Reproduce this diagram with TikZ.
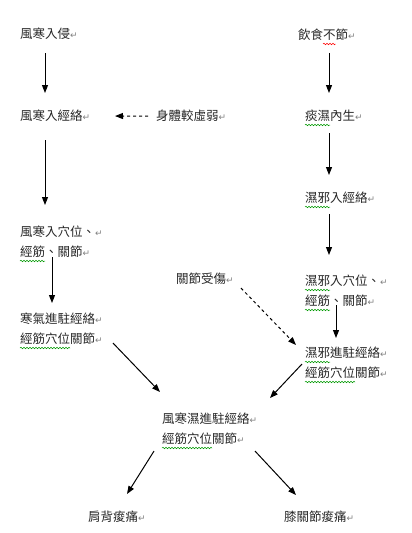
\documentclass[tikz,border=0pt]{standalone}
\usepackage{fontspec}
\usetikzlibrary{arrows.meta,decorations.pathmorphing}
\newfontfamily\tcfont{Noto Sans CJK TC}
\newfontfamily\dvfont{DejaVu Sans}
\newcommand{\rmark}{{\dvfont\fontsize{9}{9}\selectfont\color{gray}↵}}
\tikzset{
  lbl/.style={anchor=north west, inner sep=0pt, align=left, text=black!85,
    font=\tcfont\fontsize{12.5}{20}\selectfont},
  arr/.style={line width=1pt, -{Triangle[length=8pt,width=6pt]}},
  darr/.style={arr, dash pattern=on 3pt off 3pt},
  wavy/.style={draw=green!60!black, line width=0.5pt,
    decorate, decoration={snake, segment length=3pt, amplitude=0.8pt}},
  wavyred/.style={wavy, draw=red}
}
\begin{document}
\begin{tikzpicture}[x=1pt,y=-1pt]
\useasboundingbox (0,0) rectangle (412,533);
\node[lbl] (n1) at (20,28) {風寒入侵\rmark};
\node[lbl] (n2) at (298,29) {飲食不節\rmark};
\node[lbl] (n3) at (20,110) {風寒入經絡\rmark};
\node[lbl] (n4) at (156,110) {身體較虛弱\rmark};
\node[lbl] (n5) at (305,110) {痰濕內生\rmark};
\node[lbl] (n6) at (305,192) {濕邪入經絡\rmark};
\node[lbl] (n7) at (20,226) {風寒入穴位、\rmark\\經筋、關節\rmark};
\node[lbl] (n8) at (176,273) {關節受傷\rmark};
\node[lbl] (n9) at (305,275) {濕邪入穴位、\rmark\\經筋、關節\rmark};
\node[lbl] (n10) at (20,313) {寒氣進駐經絡\rmark\\經筋穴位關節\rmark};
\node[lbl] (n11) at (305,347) {濕邪進駐經絡\rmark\\經筋穴位關節\rmark};
\node[lbl] (n12) at (162,413) {風寒濕進駐經絡\rmark\\經筋穴位關節\rmark};
\node[lbl] (n13) at (88,511) {肩背痠痛\rmark};
\node[lbl] (n14) at (284,511) {膝關節痠痛\rmark};

% spell-check underlines
\draw[wavyred] ([shift={(25,15)}]n2.north west) -- ([shift={(37.5,15)}]n2.north west);
\draw[wavy] ([shift={(0,15)}]n5.north west) -- ([shift={(25,15)}]n5.north west);
\draw[wavy] ([shift={(0,15)}]n6.north west) -- ([shift={(25,15)}]n6.north west);
\draw[wavy] ([shift={(0,35)}]n7.north west) -- ([shift={(25,35)}]n7.north west);
\draw[wavy] ([shift={(0,15)}]n9.north west) -- ([shift={(25,15)}]n9.north west);
\draw[wavy] ([shift={(0,35)}]n9.north west) -- ([shift={(25,35)}]n9.north west);
\draw[wavy] ([shift={(0,35)}]n10.north west) -- ([shift={(50,35)}]n10.north west);
\draw[wavy] ([shift={(0,15)}]n11.north west) -- ([shift={(25,15)}]n11.north west);
\draw[wavy] ([shift={(0,35)}]n11.north west) -- ([shift={(50,35)}]n11.north west);
\draw[wavy] ([shift={(0,35)}]n12.north west) -- ([shift={(50,35)}]n12.north west);

\draw[arr] ([shift={(25,13)}]n1.south west) -- ([shift={(25,-17)}]n3.north west);
\draw[arr] ([shift={(31,12)}]n2.south west) -- ([shift={(24,-17)}]n5.north west);
\draw[darr] ([xshift=-8pt]n4.west) -- ([xshift=95pt]n3.west);
\draw[arr] ([shift={(25,18)}]n3.south west) -- ([shift={(25,-21)}]n7.north west);
\draw[arr] ([shift={(24,11)}]n5.south west) -- ([shift={(24,-17)}]n6.north west);
\draw[arr] ([shift={(24,10)}]n6.south west) -- ([shift={(24,-20)}]n9.north west);
\draw[arr] ([shift={(32,-1)}]n7.south west) -- ([shift={(32,-10)}]n10.north west);
\draw[arr] ([shift={(31,-2)}]n9.south west) -- ([shift={(31,-9)}]n11.north west);
\draw[darr] ([shift={(65,3)}]n8.south west) -- ([shift={(-9,-2)}]n11.north west);
\draw[arr] ([shift={(93,-2)}]n10.south west) -- ([shift={(-2,-21)}]n12.north west);
\draw[arr] ([shift={(-3,-15)}]n11.south west) -- ([shift={(108,-15)}]n12.north west);
\draw[arr] ([shift={(-8,6)}]n12.south west) -- ([shift={(39,-17)}]n13.north west);
\draw[arr] ([shift={(93,6)}]n12.south west) -- ([shift={(12,-16)}]n14.north west);
\end{tikzpicture}
\end{document}
